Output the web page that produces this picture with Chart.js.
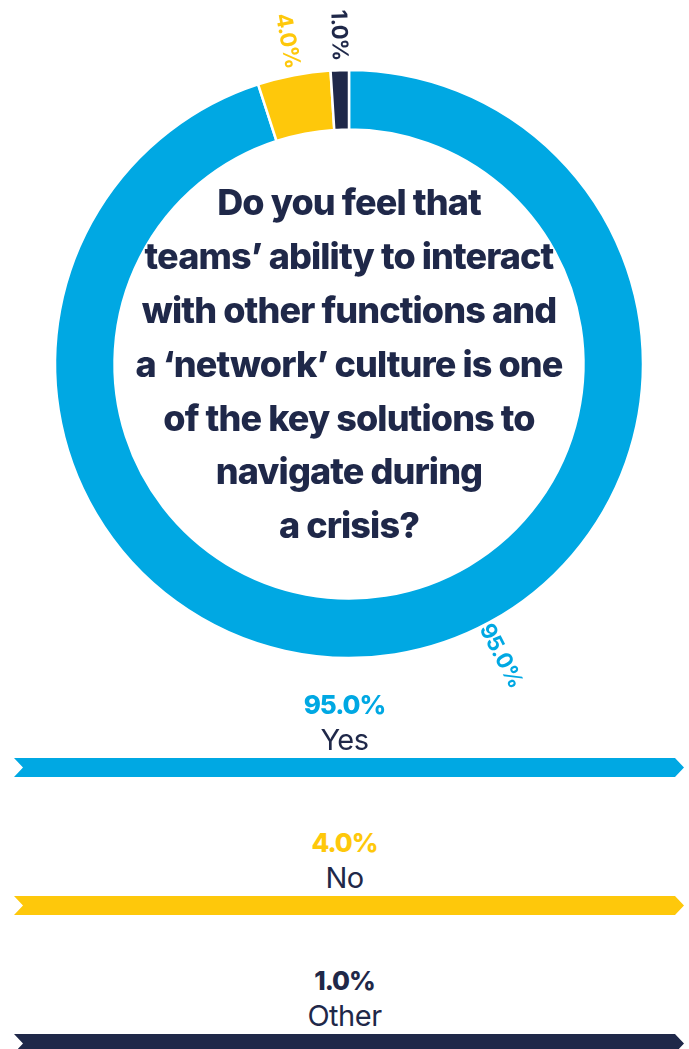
<!DOCTYPE html>
<html>
<head>
<meta charset="utf-8">
<script src="https://cdn.jsdelivr.net/npm/chart.js@4"></script>
<style>
  html, body { margin: 0; padding: 0; background: #fff; }
  body { width: 689px; height: 1049px; position: relative; overflow: hidden; font-family: Inter, "Noto Sans", sans-serif; }
  #wrap { position: absolute; left: 0; top: 0; width: 689px; height: 690px; }
  .item { position: absolute; left: 0; width: 689px; text-align: center; color: #1f2849; }
  .pct { position: absolute; left: 0; width: 100%; font-weight: 800; font-size: 26px; letter-spacing: -1px; line-height: 30px; }
  .lbl { position: absolute; left: 0; width: 100%; font-weight: 400; font-size: 29px; letter-spacing: -0.5px; line-height: 34px; }
  .bar { position: absolute; left: 14px; width: 670px; height: 19px;
         clip-path: polygon(0 0, 661px 0, 670px 50%, 661px 100%, 0 100%, 9px 50%); }
</style>
</head>
<body>
<div id="wrap"><canvas id="donut_chart"></canvas></div>
<div id="legend"></div>
<script>
var labels = ['Yes', 'No', 'Other'];
var values = [95.0, 4.0, 1.0];
var colors = ['#00a8e3', '#fec80b', '#1f2849'];
var question = [
  'Do you feel that',
  'teams\u2019 ability to interact',
  'with other functions and',
  'a \u2018network\u2019 culture is one',
  'of the key solutions to',
  'navigate during',
  'a crisis?'
];

function pctText(v) { return v.toFixed(1) + '%'; }

// question text in the hole of the ring
var centerText = {
  id: 'centerText',
  afterDraw: function(chart) {
    var meta = chart.getDatasetMeta(0).data[0];
    var ctx = chart.ctx;
    ctx.save();
    ctx.fillStyle = '#1f2849';
    ctx.font = '800 36px Inter';
    ctx.letterSpacing = '-0.9px';
    ctx.textAlign = 'center';
    ctx.textBaseline = 'middle';
    var lh = 53.8;
    var top = meta.y - lh * (question.length - 1) / 2 + 2;
    question.forEach(function(line, i) {
      ctx.fillText(line, meta.x, top + i * lh);
    });
    ctx.restore();
  }
};

// value labels outside the ring, turned along the radius
var arcLabels = {
  id: 'arcLabels',
  afterDatasetsDraw: function(chart, args, opts) {
    var ctx = chart.ctx;
    chart.getDatasetMeta(0).data.forEach(function(arc, i) {
      var f = opts.along[i];
      var a = arc.startAngle + (arc.endAngle - arc.startAngle) * f;
      var r = arc.outerRadius + opts.gap;
      var x = arc.x + Math.cos(a) * r;
      var y = arc.y + Math.sin(a) * r;
      var rot = Math.sin(a) < 0 ? a + Math.PI : a;
      ctx.save();
      ctx.translate(x, y);
      ctx.rotate(rot);
      ctx.fillStyle = colors[i];
      ctx.font = '700 22px Inter';
      ctx.letterSpacing = '-0.6px';
      ctx.textAlign = 'center';
      ctx.textBaseline = 'middle';
      ctx.fillText(pctText(values[i]), 0, 0);
      ctx.restore();
    });
  }
};

var ctx = document.getElementById('donut_chart').getContext('2d');
var myChart = new Chart(ctx, {
  type: 'doughnut',
  data: {
    labels: labels,
    datasets: [{
      data: values,
      backgroundColor: colors,
      borderColor: '#ffffff',
      borderWidth: 2.5
    }]
  },
  options: {
    responsive: true,
    maintainAspectRatio: false,
    animation: false,
    radius: 294,
    cutout: 259,
    layout: { padding: { left: 9, top: 38 } },
    plugins: {
      legend: { display: false },
      tooltip: { enabled: false },
      arcLabels: { along: [0.446, 0.5, 0.5], gap: 35 }
    }
  },
  plugins: [centerText, arcLabels]
});

// legend rows with arrow bars
var legend = document.getElementById('legend');
labels.forEach(function(name, i) {
  var base = 138 * i;
  var row = document.createElement('div');
  row.className = 'item';
  row.style.top = '0px';
  row.innerHTML =
    '<div class="pct" style="top:' + (690 + base) + 'px;color:' + colors[i] + '">' + pctText(values[i]) + '</div>' +
    '<div class="lbl" style="top:' + (723 + base) + 'px">' + name + '</div>' +
    '<div class="bar" style="top:' + (758 + base) + 'px;background:' + colors[i] + '"></div>';
  legend.appendChild(row);
});
</script>
</body>
</html>
